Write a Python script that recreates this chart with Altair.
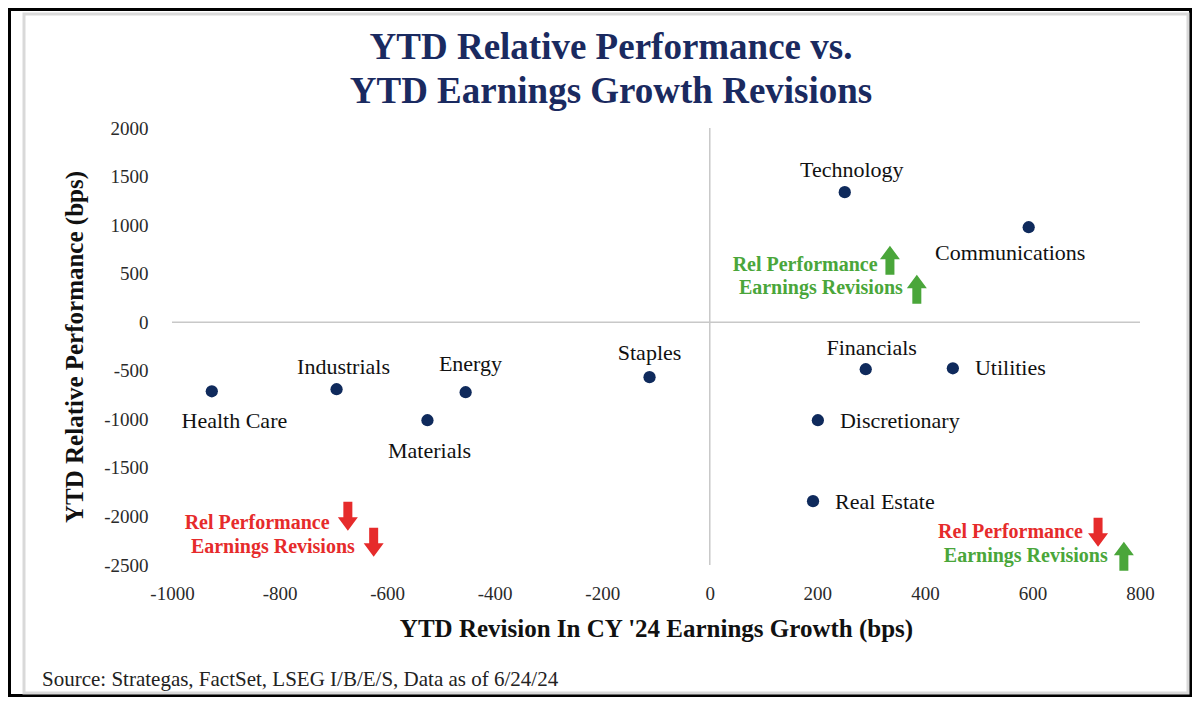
import altair as alt
import pandas as pd

# ---- data ----
sectors = ["Health Care", "Industrials", "Materials", "Energy", "Staples",
           "Technology", "Communications", "Financials", "Utilities",
           "Discretionary", "Real Estate"]
eps_revision = [-926, -694, -525, -454, -112, 251, 593, 290, 452, 201, 192]
rel_perf = [-711, -690, -1009, -721, -566, 1339, 978, -484, -474, -1009, -1843]

# label anchor positions (data units) and alignment
label_x = [-884, -681, -521, -445, -112, 264, 419, 301, 493, 242, 233]
label_y = [-1020, -463, -1329, -433, -319, 1565, 711, -268, -474, -1020, -1854]
label_align = ["center", "center", "center", "center", "center", "center",
               "left", "center", "left", "left", "left"]

# quadrant annotations
ann_text = ["Rel Performance", "Earnings Revisions",
            "Rel Performance", "Earnings Revisions",
            "Rel Performance", "Earnings Revisions"]
ann_x = [312, 359, -707, -660, 694, 740]
ann_y = [587, 350, -2070, -2317, -2163, -2410]
ann_dir = ["up", "up", "down", "down", "down", "up"]
arrow_x = [335, 385, -673, -625, 722, 770]
arrow_y = [638, 340, -1998, -2266, -2163, -2410]

x_ticks = [-1000, -800, -600, -400, -200, 0, 200, 400, 600, 800]
y_ticks = [-2500, -2000, -1500, -1000, -500, 0, 500, 1000, 1500, 2000]

title_line1 = "YTD Relative Performance vs."
title_line2 = "YTD Earnings Growth Revisions"
source_note = "Source: Strategas, FactSet, LSEG I/B/E/S, Data as of 6/24/24"

FONT = "Liberation Serif"
NAVY = "#0f2a5c"
GREEN = "#4aa63a"
RED = "#e62b2b"

pts = pd.DataFrame({"sector": sectors, "rev": eps_revision, "perf": rel_perf})
labels = pd.DataFrame({"sector": sectors, "lx": label_x, "ly": label_y,
                       "align": label_align})
ann = pd.DataFrame({"text": ann_text, "x": ann_x, "y": ann_y, "dir": ann_dir,
                    "ax": arrow_x, "ay": arrow_y})

xs = alt.Scale(domain=[-1000, 800], nice=False, zero=False)
ys = alt.Scale(domain=[-2500, 2000], nice=False, zero=False)

UP = "M0,-1.45 L1,-0.1 L0.45,-0.1 L0.45,1.45 L-0.45,1.45 L-0.45,-0.1 L-1,-0.1 Z"
DOWN = "M0,1.45 L1,0.1 L0.45,0.1 L0.45,-1.45 L-0.45,-1.45 L-0.45,0.1 L-1,0.1 Z"

one = alt.Data(values=[{"a": 1}])

black_frame = alt.Chart(one).mark_rect(
    fill=None, filled=False, stroke="black", strokeWidth=3
).encode(x=alt.value(-162.5), x2=alt.value(1018.5),
         y=alt.value(-118.5), y2=alt.value(567.5))

gray_frame = alt.Chart(one).mark_rect(
    fill=None, filled=False, stroke="#d9d9d9", strokeWidth=3
).encode(x=alt.value(-148), x2=alt.value(1016),
         y=alt.value(-114), y2=alt.value(565))

label_expr = "'' + datum.value"
x_axis = alt.Axis(values=x_ticks, title="YTD Revision In CY '24 Earnings Growth (bps)",
                  grid=False, domain=False, ticks=False, tickSize=0, labelExpr=label_expr,
                  labelFlush=False, labelOverlap=False,
                  labelFont=FONT, labelFontSize=19, labelColor="#2a2a2a",
                  labelPadding=19, titleFont=FONT, titleFontSize=25,
                  titleFontWeight="bold", titleColor="#111111", titlePadding=13)
y_axis = alt.Axis(values=y_ticks, title="YTD Relative Performance (bps)",
                  grid=False, domain=False, ticks=False, tickSize=0, labelExpr=label_expr,
                  labelFlush=False, labelOverlap=False,
                  labelFont=FONT, labelFontSize=19, labelColor="#2a2a2a",
                  labelPadding=24, titleFont=FONT, titleFontSize=25,
                  titleFontWeight="bold", titleColor="#111111", titlePadding=16)

vzero = alt.Chart(one).mark_rule(color="#c8c8c8", strokeWidth=1.5).encode(
    x=alt.datum(0, scale=xs))
hzero = alt.Chart(one).mark_rule(color="#c8c8c8", strokeWidth=1.5).encode(
    y=alt.datum(0, scale=ys))

points = alt.Chart(pts).mark_circle(size=150, color=NAVY, opacity=1).encode(
    x=alt.X("rev:Q", scale=xs, axis=x_axis),
    y=alt.Y("perf:Q", scale=ys, axis=y_axis),
)

lab_c = alt.Chart(labels).transform_filter(alt.datum.align == "center").mark_text(
    font=FONT, fontSize=22, color="#111111", align="center", baseline="middle"
).encode(x=alt.X("lx:Q", scale=xs), y=alt.Y("ly:Q", scale=ys), text="sector:N")
lab_l = alt.Chart(labels).transform_filter(alt.datum.align == "left").mark_text(
    font=FONT, fontSize=22, color="#111111", align="left", baseline="middle"
).encode(x=alt.X("lx:Q", scale=xs), y=alt.Y("ly:Q", scale=ys), text="sector:N")

color_scale = alt.Scale(domain=["up", "down"], range=[GREEN, RED])
ann_text_layer = alt.Chart(ann).mark_text(
    font=FONT, fontSize=20, fontWeight="bold", align="right", baseline="middle"
).encode(
    x=alt.X("x:Q", scale=xs), y=alt.Y("y:Q", scale=ys), text="text:N",
    color=alt.Color("dir:N", scale=color_scale, legend=None),
)
arrows = alt.Chart(ann).mark_point(size=400, filled=True, opacity=1, strokeWidth=0).encode(
    x=alt.X("ax:Q", scale=xs), y=alt.Y("ay:Q", scale=ys),
    shape=alt.Shape("dir:N", scale=alt.Scale(domain=["up", "down"], range=[UP, DOWN]),
                    legend=None),
    color=alt.Color("dir:N", scale=color_scale, legend=None),
)


def title_text(txt, ypos):
    return alt.Chart(alt.Data(values=[{"t": txt}])).mark_text(
        font=FONT, fontSize=37, fontWeight="bold", color="#1a2a60",
        align="center", baseline="middle"
    ).encode(x=alt.value(439), y=alt.value(ypos), text="t:N")


title1 = title_text(title_line1, -80)
title2 = title_text(title_line2, -36)

source = alt.Chart(alt.Data(values=[{"t": source_note}])).mark_text(
    font=FONT, fontSize=21, color="#222222", align="left", baseline="middle"
).encode(x=alt.value(-130), y=alt.value(552), text="t:N")

chart = alt.layer(
    black_frame, gray_frame, vzero, hzero, points, lab_c, lab_l,
    ann_text_layer, arrows, source, title1, title2
).properties(
    width=968, height=437,
    autosize=alt.AutoSizeParams(type="none"),
    padding={"left": 164, "top": 120, "right": 52, "bottom": 132},
).configure_view(stroke=None)

chart.save("out.html", embed_options={"renderer": "svg", "actions": False})
